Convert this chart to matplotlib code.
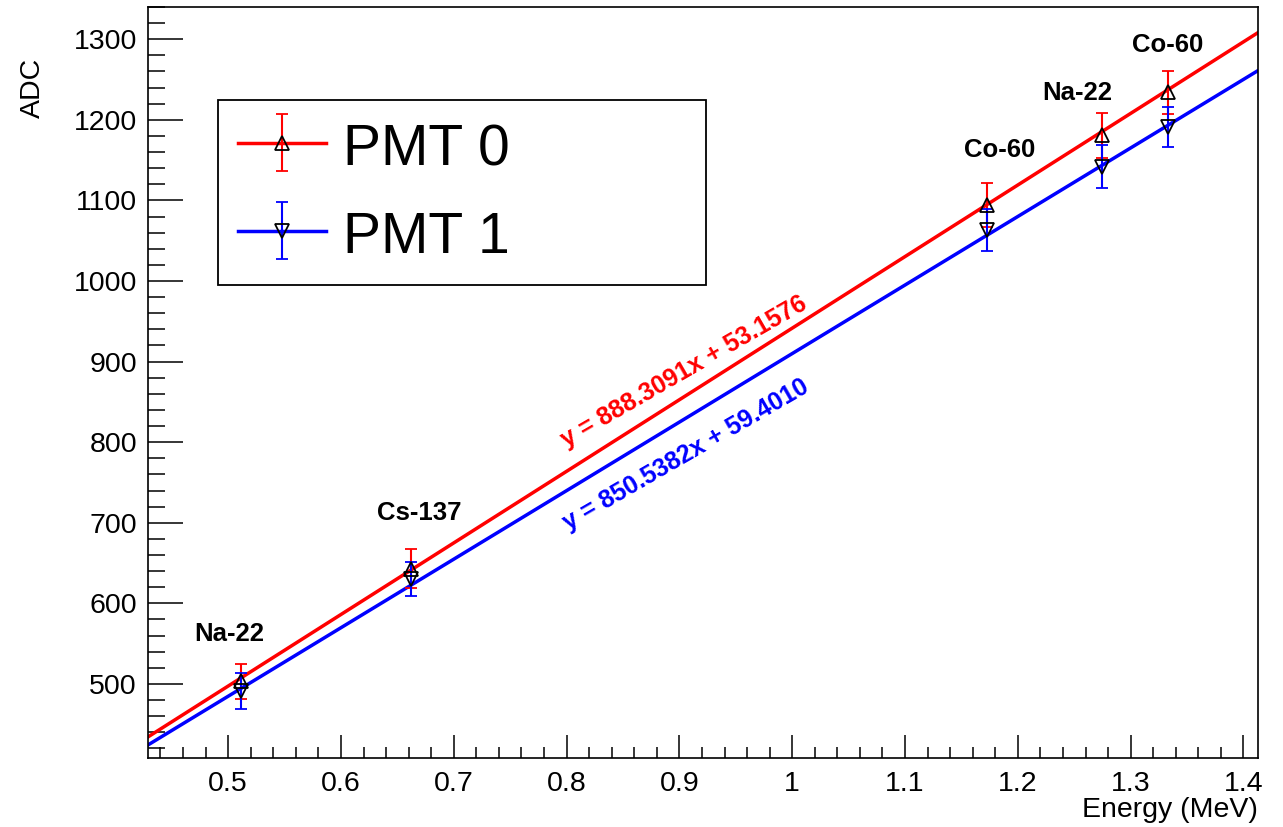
import numpy as np
import matplotlib
matplotlib.use("Agg")
from matplotlib import pyplot as plt
from matplotlib.ticker import MultipleLocator
from matplotlib.legend_handler import HandlerTuple

plt.rcParams['font.family'] = ['Liberation Sans', 'DejaVu Sans']

# photopeak energies (MeV) and fitted ADC peak positions
energies = [0.511, 0.662, 1.173, 1.275, 1.333]
sources = ["Na-22", "Cs-137", "Co-60", "Na-22", "Co-60"]
pmt0 = [503, 643, 1094, 1181, 1234]
pmt0_err = [22, 24, 27, 28, 27]
pmt1 = [491, 630, 1063, 1142, 1191]
pmt1_err = [22, 21, 26, 27, 25]

# linear fit results
fit0 = (888.3091, 53.1576)
fit1 = (850.5382, 59.4010)

# where the source names sit
label_x = [0.501, 0.669, 1.184, 1.253, 1.333]
label_y = [562, 712, 1162, 1233, 1293]

xlim = (0.429, 1.413)
ylim = (408, 1340)

fig = plt.figure(figsize=(12.83, 8.27), dpi=100)
ax = fig.add_axes([0.1154, 0.0834, 0.8652, 0.9081])

xx = np.linspace(xlim[0], xlim[1], 200)
l0, = ax.plot(xx, fit0[0] * xx + fit0[1], color='#ff0000', lw=2.5, zorder=2)
l1, = ax.plot(xx, fit1[0] * xx + fit1[1], color='#0000ff', lw=2.5, zorder=2)

eb0 = ax.errorbar(energies, pmt0, yerr=pmt0_err, fmt='^', ms=10, mfc='none',
                  mec='black', mew=1.3, ecolor='#ff0000', elinewidth=1.5,
                  capsize=4.5, capthick=1.5, zorder=3)
eb1 = ax.errorbar(energies, pmt1, yerr=pmt1_err, fmt='v', ms=10, mfc='none',
                  mec='black', mew=1.3, ecolor='#0000ff', elinewidth=1.5,
                  capsize=4.5, capthick=1.5, zorder=3)

for name, lx, ly in zip(sources, label_x, label_y):
    ax.text(lx, ly, name, fontsize=18.5, fontweight='bold', ha='center', va='center')

ax.text(0.904, 888, "y = %.4fx + %.4f" % fit0, color='#ff0000', fontsize=18,
        fontweight='bold', ha='center', va='center', rotation=30,
        rotation_mode='anchor')
ax.text(0.906, 784, "y = %.4fx + %.4f" % fit1, color='#0000ff', fontsize=18,
        fontweight='bold', ha='center', va='center', rotation=30,
        rotation_mode='anchor')

ax.set_xlim(*xlim)
ax.set_ylim(*ylim)
ax.xaxis.set_major_locator(MultipleLocator(0.1))
ax.xaxis.set_minor_locator(MultipleLocator(0.02))
ax.yaxis.set_major_locator(MultipleLocator(100))
ax.yaxis.set_minor_locator(MultipleLocator(20))
ax.xaxis.set_major_formatter(plt.FuncFormatter(lambda v, p: "%g" % round(v, 2)))
ax.yaxis.set_major_formatter(plt.FuncFormatter(lambda v, p: "%d" % v))

ax.tick_params(axis='both', which='both', direction='in', width=1.1,
               top=False, right=False, labelsize=20.5, colors='black')
ax.tick_params(axis='x', which='major', length=16.5, pad=9)
ax.tick_params(axis='x', which='minor', length=8)
ax.tick_params(axis='y', which='major', length=25, pad=8)
ax.tick_params(axis='y', which='minor', length=12.5)
for s in ax.spines.values():
    s.set_linewidth(1.2)

ax.set_xlabel("Energy (MeV)", fontsize=20.5, loc='right', labelpad=0)
fig.text(33 / 1283, 1 - 58 / 827, "ADC", fontsize=20.5, rotation=90,
         ha='center', va='top')

leg = ax.legend([(l0, eb0), (l1, eb1)], ["PMT 0", "PMT 1"],
                handler_map={tuple: HandlerTuple(ndivide=1)},
                loc='upper left', bbox_to_anchor=(0.063, 0.624, 0.44, 0.252),
                mode='expand', borderaxespad=0, fontsize=41, frameon=True,
                fancybox=False, edgecolor='black', framealpha=1,
                handlelength=1.55, handletextpad=0.3, labelspacing=0.55,
                borderpad=0.35, handleheight=1.0)
leg.get_frame().set_linewidth(1.3)

fig.savefig("out.png", dpi=100)
